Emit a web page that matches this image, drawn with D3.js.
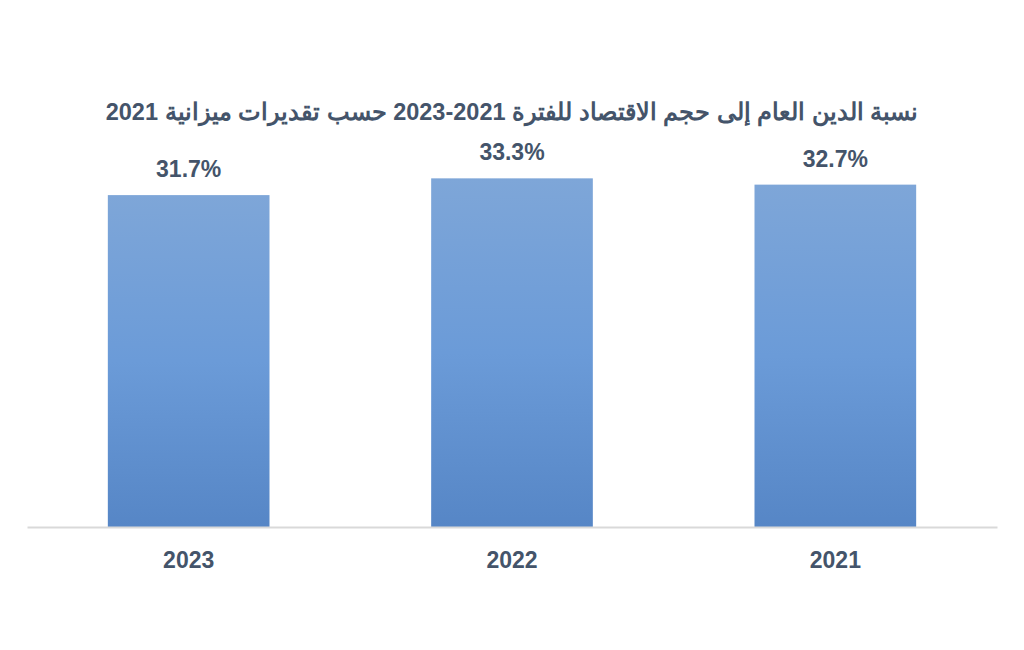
<!DOCTYPE html>
<html>
<head>
<meta charset="utf-8">
<script src="https://cdn.jsdelivr.net/npm/d3@7"></script>
<style>
  body { margin: 0; background: #fff; }
  svg { display: block; font-family: "Liberation Sans", Arial, sans-serif; }
</style>
</head>
<body>
<svg id="chart"></svg>
<script>
const years = ["2021", "2022", "2023"];
const debtRatio = [32.7, 33.3, 31.7];
const chartTitle = "نسبة الدين العام إلى حجم الاقتصاد للفترة 2021-2023 حسب تقديرات ميزانية 2021";

const size = { width: 1024, height: 650 };
const margin = { top: 160, right: 27, bottom: 123, left: 27 };

const svg = d3.select("#chart")
  .attr("width", size.width)
  .attr("height", size.height);

const defs = svg.append("defs");
const grad = defs.append("linearGradient")
  .attr("id", "barGrad")
  .attr("x1", 0).attr("y1", 0).attr("x2", 0).attr("y2", 1);
grad.append("stop").attr("offset", "0%").attr("stop-color", "#7ea6d8");
grad.append("stop").attr("offset", "50%").attr("stop-color", "#6b9bd8");
grad.append("stop").attr("offset", "100%").attr("stop-color", "#5686c6");

// right-to-left order: 2021 on the right
const x = d3.scaleBand()
  .domain(years)
  .range([size.width - margin.right, margin.left])
  .paddingInner(0.5)
  .paddingOuter(0.25);

const baseY = size.height - margin.bottom;
const y = d3.scaleLinear()
  .domain([0, 35])
  .range([baseY, baseY - 35 * 10.47]);

const data = years.map((yr, i) => ({ year: yr, value: debtRatio[i] }));

// title
svg.append("text")
  .attr("x", 512)
  .attr("y", 120)
  .attr("text-anchor", "middle")
  .attr("direction", "rtl")
  .attr("font-size", 23.5)
  .attr("font-weight", "bold")
  .attr("fill", "#44546a")
  .text(chartTitle);

// bars
svg.append("g")
  .selectAll("rect")
  .data(data)
  .enter()
  .append("rect")
  .attr("x", d => x(d.year))
  .attr("y", d => y(d.value))
  .attr("width", x.bandwidth())
  .attr("height", d => y(0) - y(d.value))
  .attr("fill", "url(#barGrad)");

// value labels
svg.append("g")
  .selectAll("text")
  .data(data)
  .enter()
  .append("text")
  .attr("x", d => x(d.year) + x.bandwidth() / 2)
  .attr("y", d => y(d.value) - 18)
  .attr("text-anchor", "middle")
  .attr("font-size", 23)
  .attr("font-weight", "bold")
  .attr("fill", "#44546a")
  .text(d => d.value.toFixed(1) + "%");

// x axis
const xAxis = svg.append("g")
  .attr("transform", `translate(0, ${baseY})`)
  .call(d3.axisBottom(x).tickSize(0).tickPadding(25));
xAxis.select(".domain")
  .attr("stroke", "#d9d9d9")
  .attr("stroke-width", 2);
xAxis.selectAll(".tick text")
  .attr("font-size", 23)
  .attr("font-weight", "bold")
  .attr("fill", "#44546a")
  .attr("font-family", "Liberation Sans, Arial, sans-serif");
</script>
</body>
</html>
